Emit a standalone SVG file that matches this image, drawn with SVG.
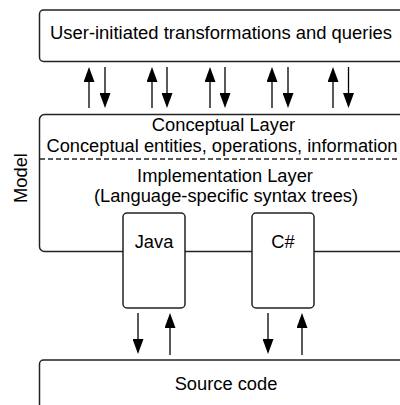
<svg xmlns="http://www.w3.org/2000/svg" width="400" height="405" viewBox="0 0 400 405">
<defs>
<style>
.box{fill:#fff;stroke:#222;stroke-width:1.5}
.t{font-family:"Liberation Sans",Arial,sans-serif;font-size:18.3px;fill:#000;text-anchor:middle}
.c{stroke:#000;stroke-width:1.3;fill:none;marker-end:url(#ah)}
</style>
<marker id="ah" viewBox="0 0 15 11" refX="12" refY="5.5" markerWidth="15" markerHeight="11" markerUnits="userSpaceOnUse" orient="auto">
<path d="M0,0 L15,5.5 L0,11 z" fill="#000"/>
</marker>
</defs>
<rect width="400" height="405" fill="#fff"/>
<g id="user">
<rect class="box" x="39.5" y="10" width="380" height="51.5" rx="4"/>
<text class="t" x="221" y="39" textLength="342" lengthAdjust="spacingAndGlyphs">User-initiated transformations and queries</text>
</g>
<g id="model">
<rect class="box" x="39.5" y="114.5" width="380" height="137" rx="5"/>
<line x1="40" y1="159" x2="400" y2="159" stroke="#222" stroke-width="1.3" stroke-dasharray="5,3"/>
<text class="t" x="223.5" y="131">Conceptual Layer</text>
<text class="t" x="222" y="152" textLength="351" lengthAdjust="spacingAndGlyphs">Conceptual entities, operations, information</text>
<text class="t" x="225" y="182">Implementation Layer</text>
<text class="t" x="226" y="202">(Language-specific syntax trees)</text>
<text class="t" transform="translate(27,178) rotate(-90)" x="0" y="0">Model</text>
</g>
<g id="java">
<rect class="box" x="123" y="213" width="62" height="95" rx="4"/>
<text class="t" x="154" y="248">Java</text>
</g>
<g id="csharp">
<rect class="box" x="252" y="213" width="62" height="95" rx="4"/>
<text class="t" x="283" y="248">C#</text>
</g>
<g id="source">
<rect class="box" x="39.5" y="360" width="380" height="60" rx="4" stroke="#444" stroke-width="1.8"/>
<text class="t" x="226" y="390">Source code</text>
</g>
<g id="connectors">
<line class="c" x1="89" y1="108" x2="89" y2="70"/>
<line class="c" x1="105" y1="67" x2="105" y2="105"/>
<line class="c" x1="152" y1="108" x2="152" y2="70"/>
<line class="c" x1="167" y1="67" x2="167" y2="105"/>
<line class="c" x1="210" y1="108" x2="210" y2="70"/>
<line class="c" x1="225" y1="67" x2="225" y2="105"/>
<line class="c" x1="272" y1="108" x2="272" y2="70"/>
<line class="c" x1="288" y1="67" x2="288" y2="105"/>
<line class="c" x1="333" y1="108" x2="333" y2="70"/>
<line class="c" x1="348.5" y1="67" x2="348.5" y2="105"/>
<line class="c" x1="138" y1="313" x2="138" y2="351"/>
<line class="c" x1="170" y1="355" x2="170" y2="316"/>
<line class="c" x1="268" y1="313" x2="268" y2="351"/>
<line class="c" x1="302" y1="355" x2="302" y2="316"/>
</g>
</svg>
